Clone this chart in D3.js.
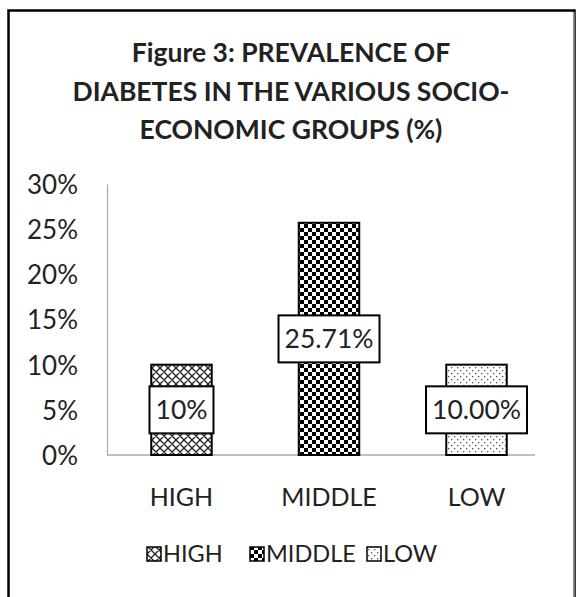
<!DOCTYPE html>
<html><head><meta charset="utf-8">
<script src="https://cdn.jsdelivr.net/npm/d3@7"></script>
<style>body{margin:0;background:#fff}svg{display:block;font-family:Lato,"Open Sans",sans-serif}</style>
</head><body><svg id="c" width="577" height="597"></svg>
<script>
const categories = ["HIGH", "MIDDLE", "LOW"];
const values = [10, 25.71, 10];
const valueLabels = ["10%", "25.71%", "10.00%"];
const yTicks = [0, 5, 10, 15, 20, 25, 30];
const titleLines = ["Figure 3: PREVALENCE OF", "DIABETES IN THE VARIOUS SOCIO-", "ECONOMIC GROUPS (%)"];
const patternIds = ["pHigh", "pMid", "pLow"];

const svg = d3.select("#c");
const defs = svg.append("defs");
// crosshatch
const p1 = defs.append("pattern").attr("id","pHigh").attr("patternUnits","userSpaceOnUse").attr("width",8).attr("height",8);
p1.append("rect").attr("width",8).attr("height",8).attr("fill","#fff");
p1.append("path").attr("d","M0,0L8,8M8,0L0,8M-2,6L2,10M6,-2L10,2M-2,2L2,-2M6,10L10,6").attr("stroke","#222").attr("stroke-width",1.3);
// checkerboard
const p2 = defs.append("pattern").attr("id","pMid").attr("patternUnits","userSpaceOnUse").attr("width",8).attr("height",8);
p2.append("rect").attr("width",8).attr("height",8).attr("fill","#fff");
p2.append("rect").attr("width",4).attr("height",4).attr("fill","#000");
p2.append("rect").attr("x",4).attr("y",4).attr("width",4).attr("height",4).attr("fill","#000");
// dots
const p3 = defs.append("pattern").attr("id","pLow").attr("patternUnits","userSpaceOnUse").attr("width",6).attr("height",6);
p3.append("rect").attr("width",6).attr("height",6).attr("fill","#fff");
p3.append("rect").attr("x",1).attr("y",1).attr("width",1.3).attr("height",1.3).attr("fill","#555");
p3.append("rect").attr("x",4).attr("y",4).attr("width",1.3).attr("height",1.3).attr("fill","#555");

// outer frame
svg.append("rect").attr("x",8.5).attr("y",10.5).attr("width",566).attr("height",600).attr("fill","none").attr("stroke","#000").attr("stroke-width",2.5);
svg.append("line").attr("x1",574).attr("x2",574).attr("y1",12).attr("y2",597).attr("stroke","#ddd");

// title
svg.append("g").selectAll("text").data(titleLines).join("text")
  .attr("x",291).attr("y",(d,i)=>62+i*38.5).attr("text-anchor","middle")
  .attr("font-size",26.5).attr("font-weight","bold").attr("fill","#222").text(d=>d);

const x = d3.scaleBand().domain(categories).range([107,551]).paddingInner(0.59).paddingOuter(0.3);
const y = d3.scaleLinear().domain([0,30]).range([455,184]);

// axes
const yAxis = svg.append("g").attr("transform","translate(107,0)")
  .call(d3.axisLeft(y).tickValues(yTicks).tickSize(0).tickPadding(29).tickFormat(d=>d+"%"));
yAxis.select(".domain").attr("stroke","#aaa").attr("stroke-width",1.2);
yAxis.selectAll("text").attr("font-size",26).attr("fill","#222").attr("dy","0.36em").attr("font-family","Lato");

svg.append("line").attr("x1",107).attr("x2",535).attr("y1",y(0)).attr("y2",y(0)).attr("stroke","#aaa").attr("stroke-width",1.5);

// bars
svg.append("g").selectAll("rect").data(values).join("rect")
  .attr("x",(d,i)=>x(categories[i])).attr("width",x.bandwidth())
  .attr("y",d=>y(d)).attr("height",d=>y(0)-y(d))
  .attr("fill",(d,i)=>`url(#${patternIds[i]})`).attr("stroke","#000").attr("stroke-width",2);

// value labels
const lab = svg.append("g").selectAll("g").data(values).join("g")
  .attr("transform",(d,i)=>`translate(${x(categories[i])+x.bandwidth()/2},${y(d/2)})`);
lab.append("text").attr("text-anchor","middle").attr("dy","0.36em").attr("font-size",26.5).attr("fill","#222")
  .text((d,i)=>valueLabels[i]);
lab.each(function(){
  const g=d3.select(this); const bb=g.select("text").node().getBBox();
  g.insert("rect","text").attr("x",bb.x-6).attr("y",-23.5).attr("width",bb.width+12).attr("height",47)
   .attr("fill","#fff").attr("stroke","#000").attr("stroke-width",2);
});

// category labels
svg.append("g").selectAll("text").data(categories).join("text")
  .attr("x",d=>x(d)+x.bandwidth()/2).attr("y",506).attr("text-anchor","middle")
  .attr("font-size",25).attr("fill","#222").text(d=>d);

// legend
const legX = [147, 250, 367];
const leg = svg.append("g").selectAll("g").data(categories).join("g")
  .attr("transform",(d,i)=>`translate(${legX[i]},554)`);
leg.append("rect").attr("x",0).attr("y",-7).attr("width",14).attr("height",14)
  .attr("fill",(d,i)=>`url(#${patternIds[i]})`).attr("stroke","#000").attr("stroke-width",1.5);
leg.append("text").attr("x",16).attr("dy","0.36em").attr("font-size",23.5).attr("fill","#222").text(d=>d);
</script></body></html>
